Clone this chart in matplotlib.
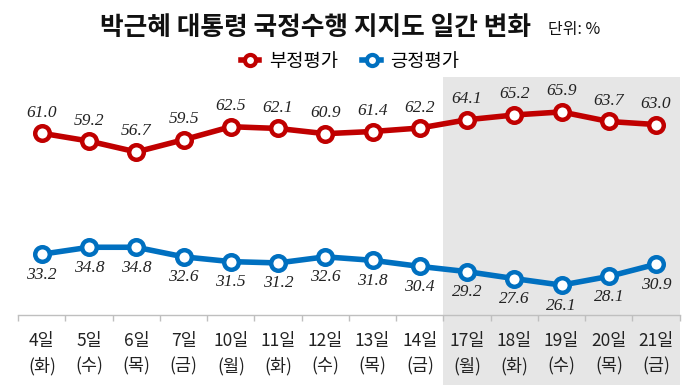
import matplotlib
matplotlib.use("Agg")
import matplotlib.pyplot as plt
from matplotlib.lines import Line2D

plt.rcParams['font.family'] = ['Noto Sans CJK KR', 'DejaVu Sans']

days = ['4일', '5일', '6일', '7일', '10일', '11일', '12일', '13일', '14일',
        '17일', '18일', '19일', '20일', '21일']
weekdays = ['(화)', '(수)', '(목)', '(금)', '(월)', '(화)', '(수)', '(목)', '(금)',
            '(월)', '(화)', '(수)', '(목)', '(금)']
negative = [61.0, 59.2, 56.7, 59.5, 62.5, 62.1, 60.9, 61.4, 62.2, 64.1, 65.2, 65.9, 63.7, 63.0]
positive = [33.2, 34.8, 34.8, 32.6, 31.5, 31.2, 32.6, 31.8, 30.4, 29.2, 27.6, 26.1, 28.1, 30.9]
shade_start = 9  # 17일

red = '#C00000'
blue = '#0070C0'

fig = plt.figure(figsize=(7, 3.91), dpi=100)
ax = fig.add_axes([0.026, 0.194, 0.945, 0.601])
n = len(days)
x = list(range(n))
ax.set_xlim(-0.5, n - 0.5)
ax.set_ylim(19.2, 73.2)

ax.axvspan(shade_start - 0.5, n - 0.5, ymin=-0.298, ymax=1.013,
           color='#E6E6E6', zorder=0, clip_on=False, lw=0)

mk = dict(marker='o', markersize=10.5, markerfacecolor='white', markeredgewidth=3.2, lw=4, zorder=3)
ax.plot(x, negative, color=red, markeredgecolor=red, **mk)
ax.plot(x, positive, color=blue, markeredgecolor=blue, **mk)

lab = dict(family='Liberation Serif', style='italic', fontsize=12.5, ha='center', color='#222222')
for i, v in enumerate(negative):
    ax.annotate(f'{v:.1f}', (i, v), xytext=(0, 9), textcoords='offset points', va='bottom', **lab)
for i, v in enumerate(positive):
    ax.annotate(f'{v:.1f}', (i, v), xytext=(0, -9), textcoords='offset points', va='top', **lab)

for s in ['top', 'right', 'left']:
    ax.spines[s].set_visible(False)
ax.spines['bottom'].set_color('#BFBFBF')
ax.spines['bottom'].set_linewidth(1.0)
ax.set_yticks([])
ax.set_xticks([i - 0.5 for i in range(n + 1)])
ax.set_xticklabels([])
ax.tick_params(axis='x', length=4, color='#BFBFBF', width=1.0, direction='out')
for i in range(n):
    ax.text(i, -0.072, days[i], transform=ax.get_xaxis_transform(), ha='center', va='top',
            fontsize=12.5, color='#222222')
    ax.text(i, -0.18, weekdays[i], transform=ax.get_xaxis_transform(), ha='center', va='top',
            fontsize=12.5, color='#222222')

fig.text(0.45, 0.93, '박근혜 대통령 국정수행 지지도 일간 변화', ha='center', va='center',
         fontsize=18.5, fontweight='bold', color='#111111')
fig.text(0.783, 0.925, '단위: %', ha='left', va='center', fontsize=11.5, color='#111111')

handles = [Line2D([0], [0], color=red, markeredgecolor=red, marker='o', markersize=8,
                  markerfacecolor='white', markeredgewidth=3, lw=4),
           Line2D([0], [0], color=blue, markeredgecolor=blue, marker='o', markersize=8,
                  markerfacecolor='white', markeredgewidth=3, lw=4)]
fig.legend(handles, ['부정평가', '긍정평가'], loc='center', bbox_to_anchor=(0.5, 0.843), ncol=2,
           frameon=False, fontsize=13.5, handlelength=1.0, columnspacing=1.3, handletextpad=0.5)

fig.savefig('out.png', dpi=100)
